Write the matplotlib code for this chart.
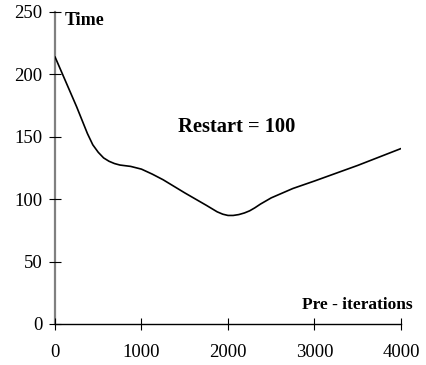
import matplotlib
matplotlib.use("Agg")
import matplotlib.pyplot as plt

pre_iterations = [0, 125, 250, 375, 437, 500, 562, 625, 687, 750, 875, 1000, 1125, 1250, 1500,
                  1750, 1875, 1940, 2000, 2060, 2125, 2190, 2250, 2310, 2375, 2500, 2750,
                  3000, 3500, 4000]
time_values = [214, 194, 174, 152.5, 143.5, 137.5, 133, 130.3, 128.5, 127.3, 126.2, 124, 120,
               115.5, 105, 95, 89.8, 87.9, 86.9, 86.9, 87.6, 88.9, 90.6, 93, 96, 101, 108.5,
               114.5, 127, 140.5]
x_ticks = [0, 1000, 2000, 3000, 4000]
y_ticks = [0, 50, 100, 150, 200, 250]

plt.rcParams['font.family'] = ['Liberation Serif', 'DejaVu Serif']

fig = plt.figure(figsize=(4.26, 3.65), dpi=100)
ax = fig.add_axes([0.1291, 0.1126, 0.8122, 0.8548])

ax.plot(pre_iterations, time_values, color='black', lw=1.2, solid_capstyle='round',
        solid_joinstyle='round')

ax.set_xlim(0, 4000)
ax.set_ylim(0, 250)
ax.set_xticks(x_ticks)
ax.set_yticks(y_ticks)
ax.set_xticklabels([str(v) for v in x_ticks])
ax.set_yticklabels([str(v) for v in y_ticks])

for s in ['top', 'right']:
    ax.spines[s].set_visible(False)
ax.spines['left'].set_color('#808080')
ax.spines['left'].set_linewidth(1.6)
ax.spines['bottom'].set_color('black')
ax.spines['bottom'].set_linewidth(1.0)
ax.spines['left'].set_zorder(0.5)

ax.tick_params(axis='both', direction='inout', length=8.5, width=0.8, color='black',
               labelsize=13.5)
ax.tick_params(axis='y', pad=5)
ax.tick_params(axis='x', pad=10.5)

ax.text(116, 243.5, 'Time', fontsize=13, fontweight='bold', va='center', ha='left')
ax.text(4139, 15, 'Pre - iterations', fontsize=12.5, fontweight='bold', va='center', ha='right',
        clip_on=False)
ax.text(2104, 158, 'Restart = 100', fontsize=14.8, fontweight='bold', va='center', ha='center')

fig.savefig('out.png', dpi=100)
